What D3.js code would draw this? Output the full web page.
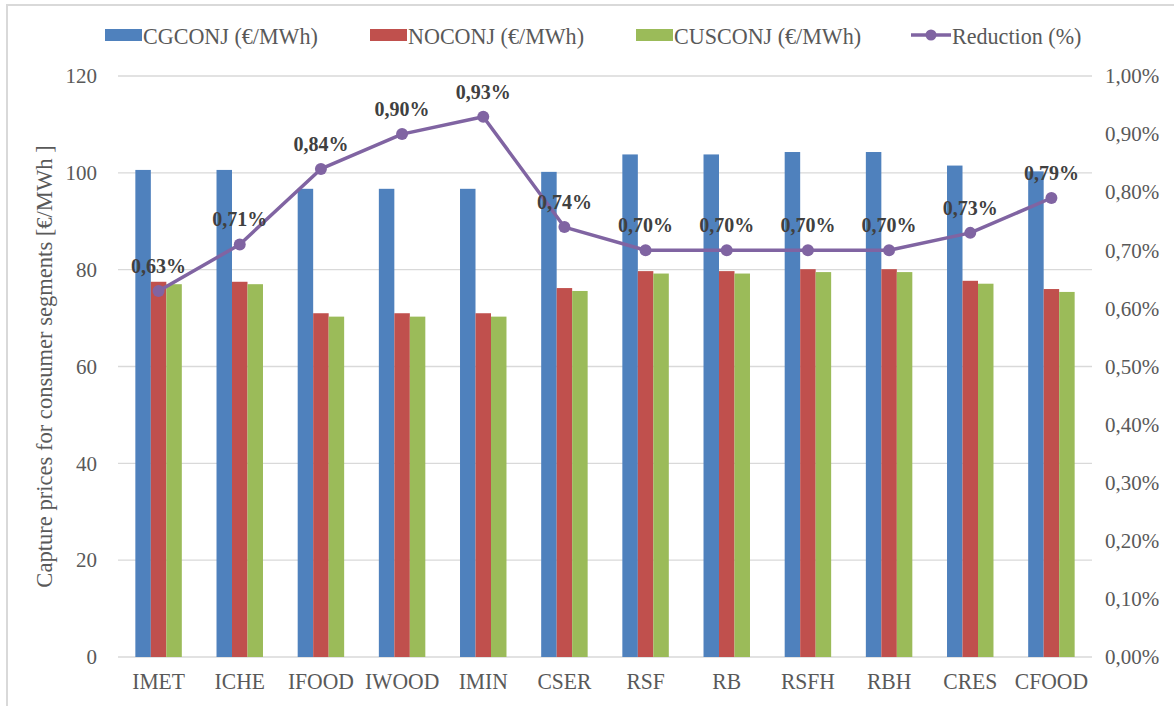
<!DOCTYPE html>
<html>
<head>
<meta charset="utf-8">
<script src="https://cdn.jsdelivr.net/npm/d3@7"></script>
<style>
  body { margin: 0; background: #fff; }
</style>
</head>
<body>
<svg id="chart" width="1174" height="706"></svg>
<script>
// data
let segments = ["IMET", "ICHE", "IFOOD", "IWOOD", "IMIN", "CSER", "RSF", "RB", "RSFH", "RBH", "CRES", "CFOOD"]
let cgconj = [100.6, 100.6, 96.7, 96.7, 96.7, 100.2, 103.8, 103.8, 104.3, 104.3, 101.5, 100.3]
let noconj = [77.5, 77.5, 71.0, 71.0, 71.0, 76.2, 79.7, 79.7, 80.1, 80.1, 77.7, 76.0]
let cusconj = [77.0, 77.0, 70.3, 70.3, 70.3, 75.6, 79.2, 79.2, 79.5, 79.5, 77.1, 75.4]
let reduction = [0.63, 0.71, 0.84, 0.90, 0.93, 0.74, 0.70, 0.70, 0.70, 0.70, 0.73, 0.79]
let barSeries = ["CGCONJ (€/MWh)", "NOCONJ (€/MWh)", "CUSCONJ (€/MWh)"]
let lineName = "Reduction (%)"
let leftTicks = [0, 20, 40, 60, 80, 100, 120]
let rightTicks = [0, 0.1, 0.2, 0.3, 0.4, 0.5, 0.6, 0.7, 0.8, 0.9, 1.0]

let colors = ["#4F81BD", "#C0504D", "#9BBB59"]
let purple = "#8064A2"
let grid = "#d9d9d9"
let txt = "#595959"
let serif = "'Liberation Serif', 'Times New Roman', 'DejaVu Serif', serif"

let plotL = 118, plotR = 1092, plotT = 76, plotB = 657

let svg = d3.select("#chart")

// the source text is a bit condensed, squeeze glyphs horizontally
function condense(sel, k) {
    sel.each(function () {
        let w = this.getComputedTextLength()
        d3.select(this)
            .attr("textLength", w * k)
            .attr("lengthAdjust", "spacingAndGlyphs")
    })
}

// outer chart border (only top/left visible in the crop)
svg.append("rect")
    .attr("x", 7).attr("y", 5)
    .attr("width", 1200).attr("height", 750)
    .attr("fill", "none")
    .attr("stroke", grid)
    .attr("stroke-width", 2)

let x = d3.scaleBand()
    .domain(segments)
    .range([plotL, plotR])

// 3 bars + gap of ~2.24 bars in each band
let barW = x.bandwidth() / 5.24
let xs = d3.scaleBand()
    .domain(barSeries)
    .range([-1.5 * barW, 1.5 * barW])

let y = d3.scaleLinear().domain([0, 120]).range([plotB, plotT])
let y2 = d3.scaleLinear().domain([0, 1.0]).range([plotB, plotT])

// gridlines
svg.append("g")
    .selectAll("line")
    .data(leftTicks)
    .enter().append("line")
    .attr("x1", plotL).attr("x2", plotR)
    .attr("y1", d => y(d)).attr("y2", d => y(d))
    .attr("stroke", grid)
    .attr("stroke-width", 1.3)

function styleAxis(g, size) {
    g.select(".domain").remove()
    g.selectAll("text")
        .style("font-family", serif)
        .style("font-size", size)
        .attr("fill", txt)
}

// left axis
let yAxis = svg.append("g")
    .attr("transform", "translate(" + plotL + ",0)")
    .call(d3.axisLeft(y).tickValues(leftTicks).tickSize(0).tickPadding(21))
styleAxis(yAxis, "21px")

// right axis
let fmtPct = d => d3.format(".2f")(d).replace(".", ",") + "%"
let yAxis2 = svg.append("g")
    .attr("transform", "translate(" + plotR + ",0)")
    .call(d3.axisRight(y2).tickValues(rightTicks).tickSize(0).tickPadding(13).tickFormat(fmtPct))
styleAxis(yAxis2, "21px")

// bars
let seriesData = [cgconj, noconj, cusconj]
seriesData.forEach((vals, si) => {
    svg.append("g")
        .selectAll("rect")
        .data(vals)
        .enter().append("rect")
        .attr("x", (d, i) => x(segments[i]) + x.bandwidth() / 2 + xs(barSeries[si]))
        .attr("y", d => y(d))
        .attr("width", xs.bandwidth())
        .attr("height", d => y(0) - y(d))
        .attr("fill", colors[si])
})

// x axis
let xAxis = svg.append("g")
    .attr("transform", "translate(0," + plotB + ")")
    .call(d3.axisBottom(x).tickSize(0).tickPadding(15))
styleAxis(xAxis, "24px")
condense(xAxis.selectAll("text"), 0.9)

// line
let lineGen = d3.line()
    .x((d, i) => x(segments[i]) + x.bandwidth() / 2)
    .y(d => y2(d))

svg.append("path")
    .datum(reduction)
    .attr("d", lineGen)
    .attr("fill", "none")
    .attr("stroke", purple)
    .attr("stroke-width", 3.5)
    .attr("stroke-linejoin", "round")

svg.append("g")
    .selectAll("circle")
    .data(reduction)
    .enter().append("circle")
    .attr("cx", (d, i) => x(segments[i]) + x.bandwidth() / 2)
    .attr("cy", d => y2(d))
    .attr("r", 6)
    .attr("fill", purple)

svg.append("g")
    .selectAll("text")
    .data(reduction)
    .enter().append("text")
    .attr("x", (d, i) => x(segments[i]) + x.bandwidth() / 2)
    .attr("y", d => y2(d) - 18)
    .attr("text-anchor", "middle")
    .style("font-family", serif)
    .style("font-size", "20px")
    .style("font-weight", "bold")
    .attr("fill", "#404040")
    .text(fmtPct)

// y label
let yLab = svg.append("text")
    .attr("transform", "translate(52," + ((plotT + plotB) / 2) + ") rotate(-90)")
    .attr("text-anchor", "middle")
    .style("font-family", serif)
    .style("font-size", "24px")
    .attr("fill", txt)
    .text("Capture prices for consumer segments [€/MWh ]")
condense(yLab, 0.94)

// legend
let legX = [105, 370, 636]
let legend = svg.append("g")
barSeries.forEach((name, i) => {
    legend.append("rect")
        .attr("x", legX[i]).attr("y", 29)
        .attr("width", 37).attr("height", 12)
        .attr("fill", colors[i])
    legend.append("text")
        .attr("class", "leg")
        .attr("x", legX[i] + 38).attr("y", 44)
        .style("font-family", serif)
        .style("font-size", "24px")
        .attr("fill", txt)
        .text(name)
})
legend.append("line")
    .attr("x1", 911).attr("x2", 951)
    .attr("y1", 35).attr("y2", 35)
    .attr("stroke", purple)
    .attr("stroke-width", 3.5)
legend.append("circle")
    .attr("cx", 931).attr("cy", 35).attr("r", 5.5)
    .attr("fill", purple)
legend.append("text")
    .attr("class", "leg")
    .attr("x", 952).attr("y", 44)
    .style("font-family", serif)
    .style("font-size", "24px")
    .attr("fill", txt)
    .text(lineName)
condense(legend.selectAll(".leg"), 0.92)
</script>
</body>
</html>
